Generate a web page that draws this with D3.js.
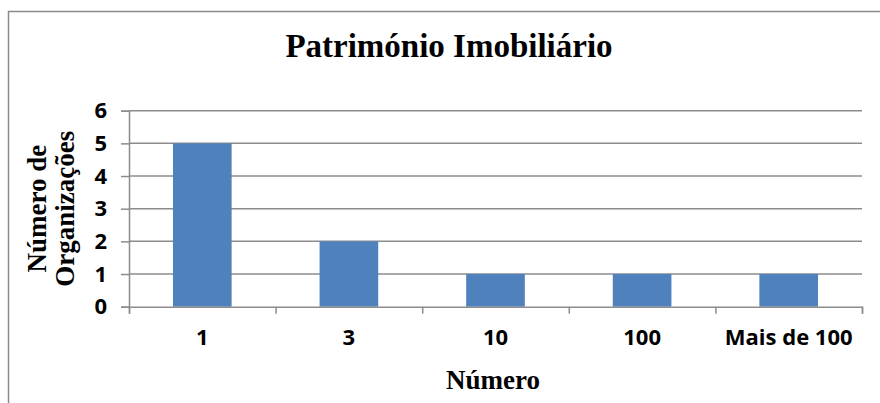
<!DOCTYPE html>
<html>
<head>
<meta charset="utf-8">
<script src="https://cdn.jsdelivr.net/npm/d3@7"></script>
<style>
  body { margin: 0; background: #fff; }
  svg { display: block; }
</style>
</head>
<body>
<div id="chart"></div>
<script>
var categories = ["1", "3", "10", "100", "Mais de 100"];
var values = [5, 2, 1, 1, 1];
var yTicks = [0, 1, 2, 3, 4, 5, 6];

var width = 880, height = 403;
var plot = { left: 129, right: 862, top: 110.7, bottom: 306.7 };

var svg = d3.select("#chart").append("svg")
    .attr("width", width)
    .attr("height", height);

// outer frame of the chart
svg.append("rect")
    .attr("x", 8.5)
    .attr("y", 11.5)
    .attr("width", 900)
    .attr("height", 420)
    .attr("fill", "none")
    .attr("stroke", "#8a8a8a")
    .attr("stroke-width", 1.5);

var x = d3.scaleBand()
    .domain(categories)
    .range([plot.left, plot.right])
    .paddingInner(0.6)
    .paddingOuter(0.3);

// category boundaries for the tick marks
var xEdge = d3.scaleLinear()
    .domain([0, categories.length])
    .range([plot.left, plot.right]);

var y = d3.scaleLinear()
    .domain([0, 6])
    .range([plot.bottom, plot.top]);

// gridlines
svg.append("g")
    .selectAll("line")
    .data(yTicks.filter(function (d) { return d > 0; }))
    .enter().append("line")
    .attr("x1", plot.left)
    .attr("x2", plot.right)
    .attr("y1", function (d) { return y(d); })
    .attr("y2", function (d) { return y(d); })
    .attr("stroke", "#8c8c8c")
    .attr("stroke-width", 1.5);

// bars
svg.append("g")
    .selectAll("rect")
    .data(values)
    .enter().append("rect")
    .attr("x", function (d, i) { return x(categories[i]); })
    .attr("y", function (d) { return y(d); })
    .attr("width", x.bandwidth())
    .attr("height", function (d) { return y(0) - y(d); })
    .attr("fill", "#4f81bd");

var tickFont = "'Open Sans', sans-serif";

// y axis
var yAxis = d3.axisLeft(y).tickValues(yTicks).tickFormat(d3.format("d")).tickSize(8).tickPadding(14);
var gY = svg.append("g")
    .attr("transform", "translate(" + plot.left + ",0)")
    .call(yAxis);
gY.select(".domain").attr("stroke", "#8c8c8c").attr("stroke-width", 1.5);
gY.selectAll(".tick line").attr("stroke", "#8c8c8c").attr("stroke-width", 1.5);
gY.selectAll(".tick text")
    .attr("fill", "#000")
    .style("font-family", tickFont)
    .style("font-weight", "bold")
    .style("font-size", "22px");

// x axis: boundary ticks
var xTickAxis = d3.axisBottom(xEdge).ticks(5).tickSize(7).tickFormat("");
var gXt = svg.append("g")
    .attr("transform", "translate(0," + plot.bottom + ")")
    .call(xTickAxis);
gXt.select(".domain").attr("stroke", "#8c8c8c").attr("stroke-width", 1.5);
gXt.selectAll(".tick line").attr("stroke", "#8c8c8c").attr("stroke-width", 1.5);

// x axis: category labels
var xAxis = d3.axisBottom(x).tickSize(0).tickPadding(23);
var gX = svg.append("g")
    .attr("transform", "translate(0," + plot.bottom + ")")
    .call(xAxis);
gX.select(".domain").remove();
gX.selectAll(".tick text")
    .attr("fill", "#000")
    .style("font-family", tickFont)
    .style("font-weight", "bold")
    .style("font-size", "22px");

// title
svg.append("text")
    .attr("x", 449)
    .attr("y", 57)
    .attr("text-anchor", "middle")
    .style("font-family", "'Liberation Serif', 'Times New Roman', serif")
    .style("font-weight", "bold")
    .style("font-size", "33px")
    .text("Património Imobiliário");

// x axis title
svg.append("text")
    .attr("x", 493)
    .attr("y", 389)
    .attr("text-anchor", "middle")
    .style("font-family", "'Liberation Serif', 'Times New Roman', serif")
    .style("font-weight", "bold")
    .style("font-size", "27px")
    .text("Número");

// y axis title, two lines
var yTitle = svg.append("text")
    .attr("transform", "translate(46," + ((plot.top + plot.bottom) / 2) + ") rotate(-90)")
    .attr("text-anchor", "middle")
    .style("font-family", "'Liberation Serif', 'Times New Roman', serif")
    .style("font-weight", "bold")
    .style("font-size", "27px");
yTitle.append("tspan").attr("x", 0).attr("dy", 0).text("Número de");
yTitle.append("tspan").attr("x", 0).attr("dy", 28).text("Organizações");
</script>
</body>
</html>
